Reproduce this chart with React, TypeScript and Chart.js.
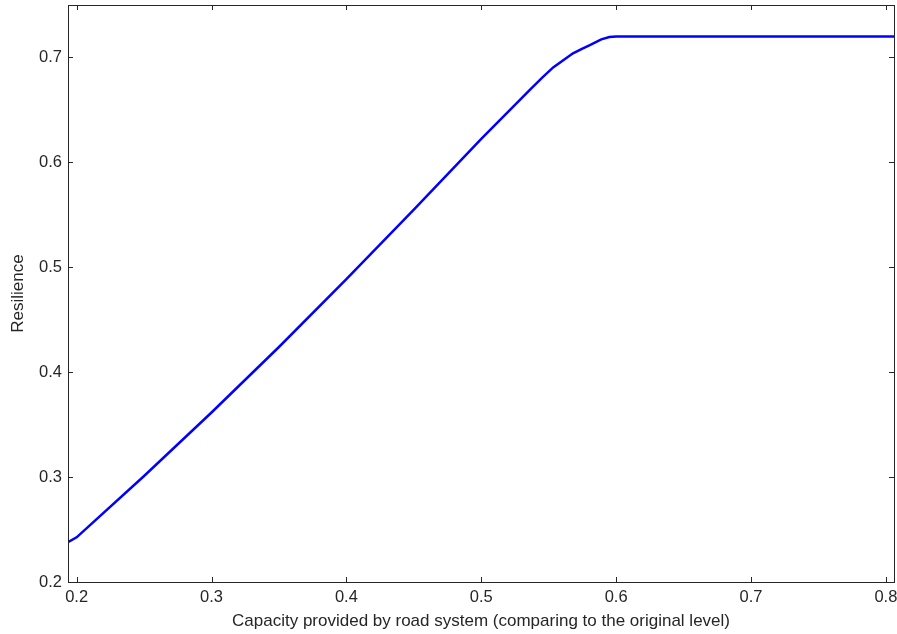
import React, { useEffect, useRef } from "react";
import { Chart, registerables } from "chart.js";

Chart.register(...registerables);

const capacity = [0.1936, 0.2, 0.25, 0.3, 0.35, 0.4, 0.45, 0.5, 0.536, 0.545, 0.5533, 0.568, 0.575, 0.5805, 0.589, 0.595, 0.6, 0.7, 0.806];
const resilience = [0.238, 0.2426, 0.301, 0.3616, 0.424, 0.4888, 0.555, 0.6224, 0.669, 0.6805, 0.6905, 0.704, 0.7085, 0.7118, 0.7172, 0.7194, 0.72, 0.72, 0.72];
const xTicks = [0.2, 0.3, 0.4, 0.5, 0.6, 0.7, 0.8];
const yTicks = [0.2, 0.3, 0.4, 0.5, 0.6, 0.7];
const xTitle = "Capacity provided by road system (comparing to the original level)";
const yTitle = "Resilience";

const FONT = "'Liberation Sans', Arial, sans-serif";

const boxPlugin = {
  id: "matlabBox",
  afterDraw(chart: any) {
    const { ctx, chartArea: a, scales } = chart;
    ctx.save();
    ctx.strokeStyle = "#262626";
    ctx.lineWidth = 1;
    ctx.strokeRect(a.left + 0.5, a.top + 0.5, a.right - a.left, a.bottom - a.top);
    const len = 5;
    ctx.beginPath();
    for (const v of xTicks) {
      const px = Math.round(scales.x.getPixelForValue(v)) + 0.5;
      ctx.moveTo(px, a.bottom);
      ctx.lineTo(px, a.bottom - len);
      ctx.moveTo(px, a.top);
      ctx.lineTo(px, a.top + len);
    }
    for (const v of yTicks) {
      const py = Math.round(scales.y.getPixelForValue(v)) + 0.5;
      ctx.moveTo(a.left, py);
      ctx.lineTo(a.left + len, py);
      ctx.moveTo(a.right, py);
      ctx.lineTo(a.right - len, py);
    }
    ctx.stroke();
    ctx.restore();
  },
};

export default function App() {
  const ref = useRef<HTMLCanvasElement>(null);
  useEffect(() => {
    document.body.style.margin = "0";
    const chart = new Chart(ref.current!, {
      type: "line",
      data: {
        datasets: [
          {
            data: capacity.map((x, i) => ({ x, y: resilience[i] })),
            borderColor: "#0000ff",
            borderWidth: 2.5,
            pointRadius: 0,
            tension: 0,
            fill: false,
          },
        ],
      },
      options: {
        animation: false,
        responsive: false,
        maintainAspectRatio: false,
        layout: { padding: { left: 0, top: 5, right: 3, bottom: 0 } },
        plugins: { legend: { display: false }, tooltip: { enabled: false } },
        scales: {
          x: {
            type: "linear",
            min: 0.1936,
            max: 0.806,
            afterBuildTicks: (s: any) => {
              s.ticks = xTicks.map((v) => ({ value: v }));
            },
            afterFit: (s: any) => {
              s.height = 52;
              s.paddingLeft = 0;
              s.paddingRight = 0;
            },
            grid: { display: false, drawTicks: false },
            border: { display: false },
            ticks: {
              padding: 6,
              color: "#262626",
              font: { family: FONT, size: 16.5 },
              maxRotation: 0,
              autoSkip: false,
              callback: (v: any) => String(v),
            },
            title: {
              display: true,
              text: xTitle,
              color: "#262626",
              font: { family: FONT, size: 17 },
              padding: { top: 0, bottom: 2 },
            },
          },
          y: {
            type: "linear",
            min: 0.2,
            max: 0.75,
            afterBuildTicks: (s: any) => {
              s.ticks = yTicks.map((v) => ({ value: v }));
            },
            afterFit: (s: any) => {
              s.width = 68;
              s.paddingTop = 0;
              s.paddingBottom = 0;
            },
            grid: { display: false, drawTicks: false },
            border: { display: false },
            ticks: {
              padding: 6,
              color: "#262626",
              font: { family: FONT, size: 16.5 },
              autoSkip: false,
              callback: (v: any) => String(v),
            },
            title: {
              display: true,
              text: yTitle,
              color: "#262626",
              font: { family: FONT, size: 17 },
              padding: { top: 8, bottom: 0 },
            },
          },
        },
      },
      plugins: [boxPlugin],
    });
    return () => chart.destroy();
  }, []);
  return (
    <div style={{ position: "absolute", left: 0, top: 0, width: 897, height: 634, background: "#fff" }}>
      <canvas ref={ref} width={897} height={634} style={{ display: "block" }} />
    </div>
  );
}
